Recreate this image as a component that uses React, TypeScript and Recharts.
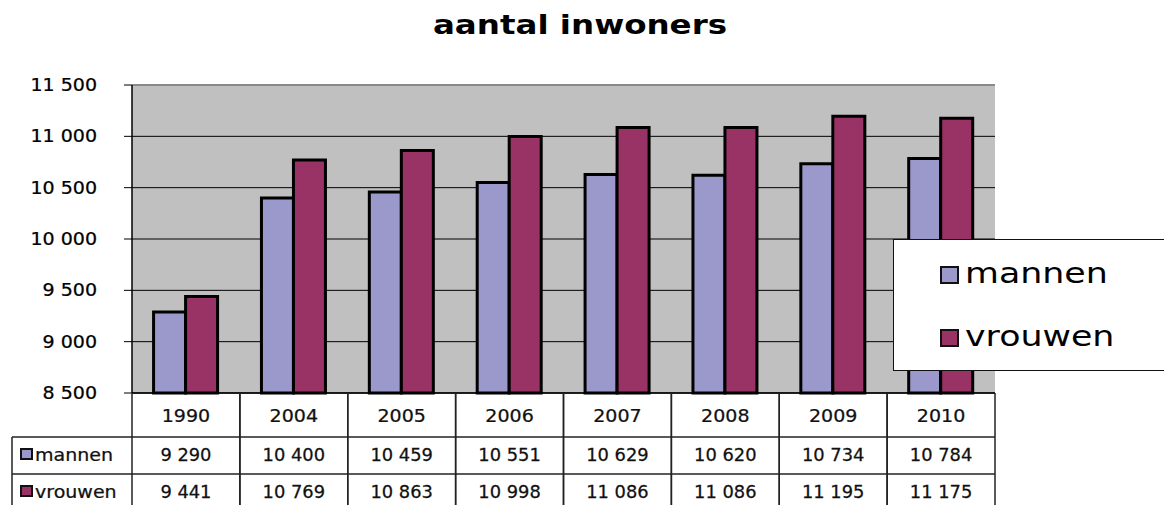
import React from 'react';
import { BarChart, Bar, XAxis, YAxis, CartesianGrid, Legend, ReferenceLine } from 'recharts';

const years = ['1990', '2004', '2005', '2006', '2007', '2008', '2009', '2010'];
const mannen = [9290, 10400, 10459, 10551, 10629, 10620, 10734, 10784];
const vrouwen = [9441, 10769, 10863, 10998, 11086, 11086, 11195, 11175];
const yTicks = [8500, 9000, 9500, 10000, 10500, 11000, 11500];

const seriesNames = ['mannen', 'vrouwen'];
const seriesColors = ['#9b98cb', '#993366'];

const data = years.map((year, i) => ({ year, mannen: mannen[i], vrouwen: vrouwen[i] }));

const FONT = '"DejaVu Sans", Verdana, sans-serif';
const W = 1164;
const H = 505;
const PLOT_LEFT = 132;
const PLOT_RIGHT = 995;
const PLOT_BOTTOM = 393;
const BAND = (PLOT_RIGHT - PLOT_LEFT) / years.length;
const ROW1 = 437;
const ROW2 = 474;
const ROW3 = 511;
const LINE = '#222';

const fmt = (v: number) => String(v).replace(/\B(?=(\d{3})+(?!\d))/g, ' ');

const YTick = ({ x, y, payload }: any) => (
  <text
    transform={`translate(${x},${y}) scale(1.12,1)`}
    textAnchor="end"
    dominantBaseline="central"
    fontSize={17}
    fontFamily={FONT}
    fill="#000"
    stroke="#000"
    strokeWidth={0.25}
  >
    {fmt(payload.value)}
  </text>
);

const cellText = (cx: number, cy: number, s: string, anchor = 'middle', sx = 1.12) => (
  <text
    transform={`translate(${cx},${cy}) scale(${sx},1)`}
    textAnchor={anchor}
    dominantBaseline="central"
    fontSize={17}
    fontFamily={FONT}
    fill="#111"
    stroke="#111"
    strokeWidth={0.25}
  >
    {s}
  </text>
);

// x-axis tick draws one column of the data table
const TableTick = ({ x, y, payload, index }: any) => {
  const left = x - BAND / 2;
  const right = x + BAND / 2;
  const i = index ?? years.indexOf(payload.value);
  return (
    <g>
      <line x1={left} x2={left} y1={y} y2={ROW3} stroke={LINE} strokeWidth={1.5} />
      <line x1={right} x2={right} y1={y} y2={ROW3} stroke={LINE} strokeWidth={1.5} />
      <line x1={left} x2={right} y1={ROW1} y2={ROW1} stroke={LINE} strokeWidth={1.5} />
      <line x1={left} x2={right} y1={ROW2} y2={ROW2} stroke={LINE} strokeWidth={1.5} />
      {cellText(x, 416, payload.value)}
      {cellText(x, 455, fmt(mannen[i]), 'middle', 1.05)}
      {cellText(x, 492, fmt(vrouwen[i]), 'middle', 1.05)}
      {i === 0 && (
        <g>
          <line x1={12} x2={left} y1={ROW1} y2={ROW1} stroke={LINE} strokeWidth={1.5} />
          <line x1={12} x2={left} y1={ROW2} y2={ROW2} stroke={LINE} strokeWidth={1.5} />
          <line x1={12} x2={12} y1={ROW1} y2={ROW3} stroke={LINE} strokeWidth={1.5} />
          {seriesNames.map((name, k) => {
            const cy = k === 0 ? 454 : 491;
            return (
              <g key={name}>
                <rect x={21} y={cy - 5} width={11} height={10} fill={seriesColors[k]} stroke="#111" strokeWidth={2} />
                {cellText(35, cy + 1, name, 'start')}
              </g>
            );
          })}
        </g>
      )}
    </g>
  );
};

const LegendBox = () => (
  <div
    style={{
      position: 'relative',
      width: 271,
      height: 132,
      background: '#fff',
      borderTop: '1px solid #111',
      borderBottom: '1px solid #111',
      borderLeft: '1px solid #111',
      boxSizing: 'border-box',
      fontFamily: FONT,
    }}
  >
    {seriesNames.map((name, k) => (
      <div key={name} style={{ position: 'absolute', left: 46, top: 19 + k * 63, height: 29 }}>
        <div
          style={{
            position: 'absolute',
            left: 0,
            top: 7,
            width: 19,
            height: 18,
            background: seriesColors[k],
            border: '2px solid #111',
            boxSizing: 'border-box',
          }}
        />
        <div
          style={{
            position: 'absolute',
            left: 25,
            top: 0,
            fontSize: 29,
            lineHeight: '29px',
            color: '#000',
            whiteSpace: 'nowrap',
            transform: 'scaleX(1.2)',
            transformOrigin: 'left center',
          }}
        >
          {name}
        </div>
      </div>
    ))}
  </div>
);

export default function App() {
  return (
    <div style={{ position: 'absolute', left: 0, top: 0, width: W, height: H, background: '#fff', overflow: 'hidden' }}>
      <div
        style={{
          position: 'absolute',
          left: 430,
          top: 12,
          width: 300,
          textAlign: 'center',
          fontFamily: FONT,
          fontWeight: 'bold',
          fontSize: 26,
          lineHeight: '26px',
          color: '#000',
          whiteSpace: 'nowrap',
          transform: 'scaleX(1.25)',
          transformOrigin: 'center',
          zIndex: 2,
        }}
      >
        aantal inwoners
      </div>
      <BarChart
        width={W}
        height={H}
        data={data}
        margin={{ top: 85, right: W - PLOT_RIGHT, bottom: 0, left: 0 }}
        barCategoryGap="20%"
        barGap={0}
      >
        <CartesianGrid vertical={false} stroke="#000" fill="#c0c0c0" fillOpacity={1} />
        <XAxis
          dataKey="year"
          height={H - PLOT_BOTTOM}
          interval={0}
          tickLine={false}
          tickSize={0}
          tickMargin={0}
          axisLine={{ stroke: '#000', strokeWidth: 1.5 }}
          tick={<TableTick />}
        />
        <YAxis
          width={PLOT_LEFT}
          domain={[8500, 11500]}
          ticks={yTicks}
          interval={0}
          tickSize={8}
          tickMargin={27}
          tickLine={{ stroke: '#000' }}
          axisLine={{ stroke: '#000', strokeWidth: 1.5 }}
          tick={<YTick />}
        />
        <YAxis
          yAxisId="r"
          orientation="right"
          width={0}
          domain={[8500, 11500]}
          tick={false}
          tickLine={false}
          axisLine={{ stroke: '#8a8a8a', strokeWidth: 3 }}
        />
        <ReferenceLine y={11500} stroke="#8a8a8a" strokeWidth={2} />
        <Legend
          layout="vertical"
          align="center"
          verticalAlign="middle"
          wrapperStyle={{ left: 893, top: 239, width: 271, height: 132 }}
          content={<LegendBox />}
        />
        {seriesNames.map((name, k) => (
          <Bar
            key={name}
            dataKey={name}
            fill={seriesColors[k]}
            stroke="#000"
            strokeWidth={3}
            isAnimationActive={false}
          />
        ))}
      </BarChart>
    </div>
  );
}
